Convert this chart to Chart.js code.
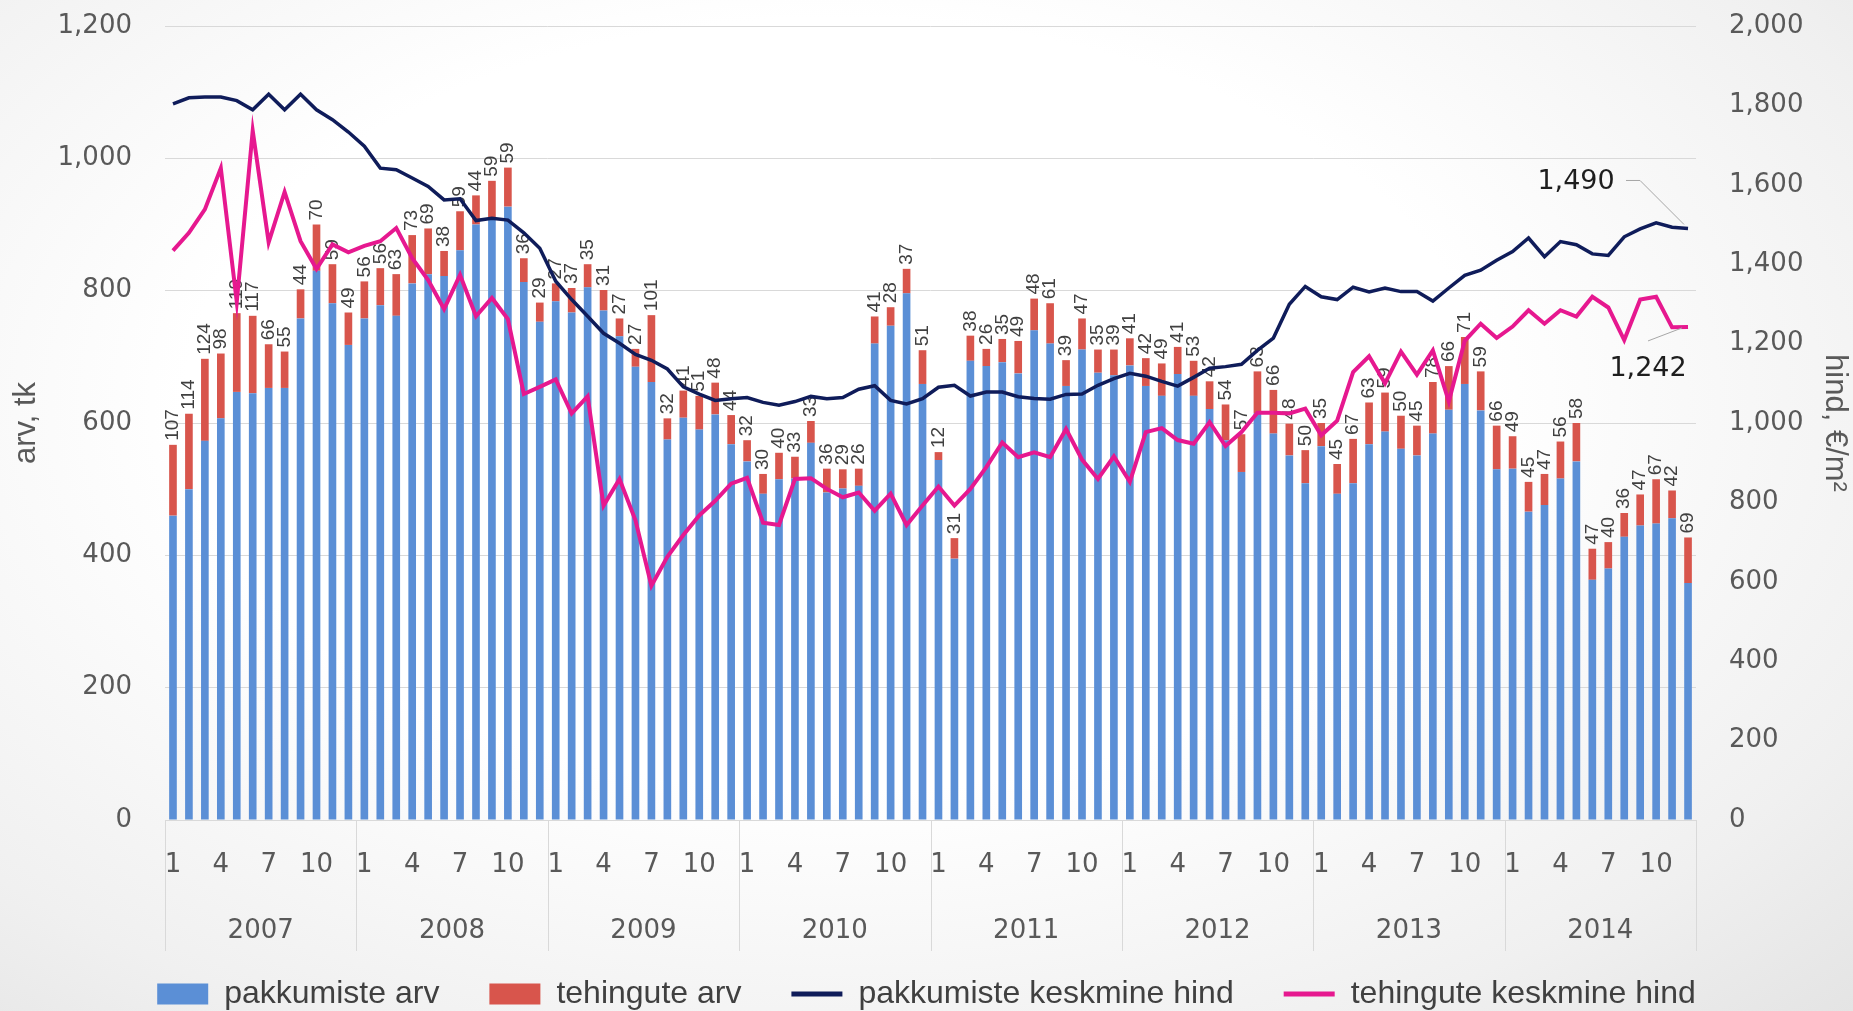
<!DOCTYPE html>
<html lang="et">
<head>
<meta charset="utf-8">
<title>Pakkumised ja tehingud</title>
<script src="https://cdn.jsdelivr.net/npm/chart.js@4.4.1/dist/chart.umd.min.js"></script>
<style>
    html, body {
        margin: 0;
        padding: 0;
        overflow: hidden;
        width: 1853px;
        height: 1011px;
        background: radial-gradient(ellipse at 45% 40%, #ffffff 45%, #f0f0f0 80%, #e4e4e4 100%);
    }
    #chartBox {
        position: absolute;
        left: 0;
        top: 0;
        width: 1853px;
        height: 1020px;
    }
</style>
</head>
<body>
<div id="chartBox"><canvas id="salesChart"></canvas></div>
<script>
// Series colours
const COLORS = {
    offers: '#5b8fd6',
    deals: '#d8554c',
    offerPrice: '#0f1c5a',
    dealPrice: '#e6188f',
    grid: '#d9d9d9',
    text: '#595959'
};

const years = ['2007', '2008', '2009', '2010', '2011', '2012', '2013', '2014'];
const monthTicks = [1, 4, 7, 10];

// pakkumiste arv (blue part of the bar)
const offerCounts = [
    460, 500, 573, 607, 647, 645, 653, 653, 758, 830, 781, 718,
    758, 778, 762, 811, 825, 822, 861, 900, 907, 927, 813, 753,
    784, 767, 805, 770, 731, 685, 662, 575, 608, 590, 613, 568,
    542, 493, 515, 516, 570, 495, 501, 505, 720, 747, 796, 659,
    544, 395, 694, 686, 692, 675, 740, 720, 656, 711, 676, 672,
    687, 656, 641, 674, 641, 621, 574, 526, 615, 584, 551, 509,
    565, 493, 509, 568, 587, 561, 551, 584, 620, 659, 619, 530,
    531, 466, 476, 516, 542, 363, 380, 428, 445, 448, 456, 358
];

// tehingute arv (red part of the bar, labelled)
const dealCounts = [
    107, 114, 124, 98, 119, 117, 66, 55, 44, 70, 59, 49,
    56, 56, 63, 73, 69, 38, 59, 44, 59, 59, 36, 29,
    27, 37, 35, 31, 27, 27, 101, 32, 41, 51, 48, 44,
    32, 30, 40, 33, 33, 36, 29, 26, 41, 28, 37, 51,
    12, 31, 38, 26, 35, 49, 48, 61, 39, 47, 35, 39,
    41, 42, 49, 41, 53, 42, 54, 57, 63, 66, 48, 50,
    35, 45, 67, 63, 59, 50, 45, 78, 66, 71, 59, 66,
    49, 45, 47, 56, 58, 47, 40, 36, 47, 67, 42, 69
];

// pakkumiste keskmine hind, EUR/m2
const offerPrice = [
    1804, 1819, 1821, 1821, 1812, 1789, 1828, 1789, 1828, 1789, 1764, 1733,
    1697, 1642, 1638, 1617, 1596, 1562, 1565, 1510, 1516, 1511, 1479, 1440,
    1357, 1311, 1269, 1226, 1201, 1173, 1158, 1136, 1091, 1073, 1057, 1061,
    1064, 1052, 1045, 1054, 1067, 1061, 1064, 1085, 1094, 1057, 1048, 1061,
    1090, 1095, 1068, 1078, 1078, 1066, 1062, 1060, 1072, 1073, 1095, 1112,
    1125, 1118, 1105, 1093, 1115, 1138, 1142, 1148, 1183, 1214, 1299, 1344,
    1318, 1311, 1342, 1330, 1340, 1331, 1331, 1307, 1340, 1372, 1385, 1410,
    1432, 1466, 1419, 1457, 1449, 1426, 1422, 1469, 1489, 1504, 1493, 1490
];

// tehingute keskmine hind, EUR/m2
const dealPrice = [
    1434, 1479, 1538, 1642, 1305, 1736, 1455, 1582, 1458, 1388, 1450, 1430,
    1446, 1458, 1491, 1415, 1360, 1287, 1373, 1269, 1315, 1262, 1073, 1091,
    1110, 1024, 1067, 792, 859, 755, 590, 663, 718, 767, 804, 847,
    862, 749, 743, 859, 861, 834, 813, 825, 779, 822, 743, 792,
    840, 792, 834, 889, 951, 914, 926, 914, 985, 908, 859, 916,
    852, 977, 987, 957, 948, 1002, 942, 977, 1026, 1026, 1024, 1036,
    969, 1006, 1128, 1168, 1100, 1180, 1122, 1183, 1054, 1207, 1250, 1214,
    1243, 1284, 1250, 1284, 1268, 1318, 1291, 1209, 1311, 1318, 1241, 1242
];

// one category per month, label is month number
const monthLabels = [];
years.forEach(() => {
    for (let m = 1; m <= 12; m++) monthLabels.push(m);
});

const TICK_FONT = { family: '"DejaVu Sans", sans-serif', size: 26 };
const NARROW = '"Liberation Sans Narrow", "Liberation Sans", sans-serif';

/**
 * Draws rotated deal counts, year row and end-value callouts
 */
const overlayPlugin = {
    id: 'overlay',
    afterDatasetDraw(chart, args) {
        if (args.index !== 1) return;
        const ctx = chart.ctx;
        ctx.save();
        ctx.font = '19px ' + NARROW;
        ctx.fillStyle = '#404040';
        ctx.textAlign = 'left';
        ctx.textBaseline = 'middle';
        args.meta.data.forEach((bar, i) => {
            ctx.save();
            ctx.translate(bar.x, bar.y - 4);
            ctx.rotate(-Math.PI / 2);
            ctx.fillText(String(dealCounts[i]), 0, 0);
            ctx.restore();
        });
        ctx.restore();
    },
    afterDraw(chart) {
        const ctx = chart.ctx;
        const xs = chart.scales.x;
        const area = chart.chartArea;
        const half = (xs.getPixelForValue(1) - xs.getPixelForValue(0)) / 2;

        // year separators and year labels
        ctx.save();
        ctx.strokeStyle = COLORS.grid;
        ctx.lineWidth = 1;
        ctx.fillStyle = COLORS.text;
        ctx.font = '26px "DejaVu Sans", sans-serif';
        ctx.textAlign = 'center';
        ctx.textBaseline = 'middle';
        for (let k = 0; k <= years.length; k++) {
            const idx = Math.min(k * 12, monthLabels.length - 1);
            const px = Math.round(xs.getPixelForValue(idx) + (k * 12 > idx ? half : -half)) + 0.5;
            ctx.beginPath();
            ctx.moveTo(px, area.bottom);
            ctx.lineTo(px, area.bottom + 131);
            ctx.stroke();
        }
        years.forEach((y, k) => {
            const left = xs.getPixelForValue(k * 12) - half;
            const right = xs.getPixelForValue(k * 12 + 11) + half;
            ctx.fillText(y, (left + right) / 2, area.bottom + 111);
        });
        ctx.restore();

        // callouts for the last values
        const last = monthLabels.length - 1;
        const pOffer = chart.getDatasetMeta(2).data[last];
        const pDeal = chart.getDatasetMeta(3).data[last];
        ctx.save();
        ctx.strokeStyle = '#a6a6a6';
        ctx.lineWidth = 1;
        ctx.beginPath();
        ctx.moveTo(pOffer.x - 62, pOffer.y - 48);
        ctx.lineTo(pOffer.x - 48, pOffer.y - 48);
        ctx.lineTo(pOffer.x - 4, pOffer.y - 4);
        ctx.moveTo(pDeal.x - 40, pDeal.y + 14);
        ctx.lineTo(pDeal.x - 6, pDeal.y + 1);
        ctx.stroke();
        ctx.fillStyle = '#1e1e1e';
        ctx.font = '27px "DejaVu Sans", sans-serif';
        ctx.textAlign = 'center';
        ctx.textBaseline = 'middle';
        ctx.fillText(offerPrice[last].toLocaleString('en-US'), pOffer.x - 112, pOffer.y - 46);
        ctx.fillText(dealPrice[last].toLocaleString('en-US'), pDeal.x - 40, pDeal.y + 42);
        ctx.restore();
    }
};

// fixed axis box so the plot area matches the original layout
function fixVerticalAxis(width) {
    return scale => {
        scale.width = width;
        scale.paddingTop = 0;
        scale.paddingBottom = 0;
    };
}

function createSalesChart(canvasId) {
    const ctx = document.getElementById(canvasId);
    if (!ctx) {
        console.error(`Canvas element ${canvasId} not found`);
        return null;
    }

    return new Chart(ctx, {
        data: {
            labels: monthLabels,
            datasets: [
                {
                    type: 'bar',
                    label: 'pakkumiste arv',
                    data: offerCounts,
                    backgroundColor: COLORS.offers,
                    stack: 's',
                    yAxisID: 'y',
                    order: 2,
                    barPercentage: 0.48,
                    categoryPercentage: 1
                },
                {
                    type: 'bar',
                    label: 'tehingute arv',
                    data: dealCounts,
                    backgroundColor: COLORS.deals,
                    stack: 's',
                    yAxisID: 'y',
                    order: 2,
                    barPercentage: 0.48,
                    categoryPercentage: 1
                },
                {
                    type: 'line',
                    label: 'pakkumiste keskmine hind',
                    data: offerPrice,
                    borderColor: COLORS.offerPrice,
                    backgroundColor: COLORS.offerPrice,
                    borderWidth: 3.5,
                    pointRadius: 0,
                    tension: 0,
                    yAxisID: 'y1',
                    order: 1
                },
                {
                    type: 'line',
                    label: 'tehingute keskmine hind',
                    data: dealPrice,
                    borderColor: COLORS.dealPrice,
                    backgroundColor: COLORS.dealPrice,
                    borderWidth: 4,
                    pointRadius: 0,
                    tension: 0,
                    yAxisID: 'y1',
                    order: 0
                }
            ]
        },
        options: {
            responsive: true,
            maintainAspectRatio: false,
            animation: false,
            layout: { padding: { top: 26, left: 0, right: 0, bottom: 0 } },
            plugins: {
                tooltip: { enabled: false },
                legend: {
                    position: 'bottom',
                    labels: {
                        usePointStyle: true,
                        pointStyleWidth: 51,
                        boxHeight: 21,
                        padding: 50,
                        color: '#404040',
                        font: { family: NARROW, size: 32 },
                        sort: (a, b) => a.datasetIndex - b.datasetIndex,
                        generateLabels(chart) {
                            const items = Chart.defaults.plugins.legend.labels.generateLabels(chart);
                            items.forEach(item => {
                                const ds = chart.data.datasets[item.datasetIndex];
                                if (ds.type === 'line') {
                                    item.pointStyle = 'line';
                                    item.strokeStyle = ds.borderColor;
                                    item.lineWidth = 5;
                                } else {
                                    item.pointStyle = 'rect';
                                    item.lineWidth = 0;
                                }
                            });
                            return items;
                        }
                    }
                }
            },
            scales: {
                x: {
                    stacked: true,
                    grid: { display: false, drawTicks: false },
                    border: { display: true, color: COLORS.grid, width: 1 },
                    ticks: {
                        autoSkip: false,
                        maxRotation: 0,
                        padding: 30,
                        color: COLORS.text,
                        font: TICK_FONT,
                        callback: function(value) {
                            const m = monthLabels[value];
                            return monthTicks.includes(m) ? String(m) : '';
                        }
                    },
                    afterFit: scale => { scale.height = 108; }
                },
                y: {
                    position: 'left',
                    stacked: true,
                    min: 0,
                    max: 1200,
                    grid: { color: COLORS.grid, drawTicks: false },
                    border: { display: false },
                    ticks: {
                        stepSize: 200,
                        padding: 33,
                        color: COLORS.text,
                        font: TICK_FONT,
                        callback: value => value.toLocaleString('en-US')
                    },
                    title: {
                        display: true,
                        text: 'arv, tk',
                        color: COLORS.text,
                        font: { family: NARROW, size: 31 },
                        padding: { top: 8, bottom: 0 }
                    },
                    afterFit: fixVerticalAxis(165)
                },
                y1: {
                    position: 'right',
                    min: 0,
                    max: 2000,
                    grid: { display: false, drawTicks: false },
                    border: { display: false },
                    ticks: {
                        stepSize: 200,
                        padding: 33,
                        color: COLORS.text,
                        font: TICK_FONT,
                        callback: value => value.toLocaleString('en-US')
                    },
                    title: {
                        display: true,
                        text: 'hind, €/m²',
                        color: COLORS.text,
                        font: { family: NARROW, size: 31 },
                        padding: { top: 0, bottom: 0 }
                    },
                    afterFit: fixVerticalAxis(157)
                }
            }
        },
        plugins: [overlayPlugin]
    });
}

document.addEventListener('DOMContentLoaded', () => createSalesChart('salesChart'));
</script>
</body>
</html>
